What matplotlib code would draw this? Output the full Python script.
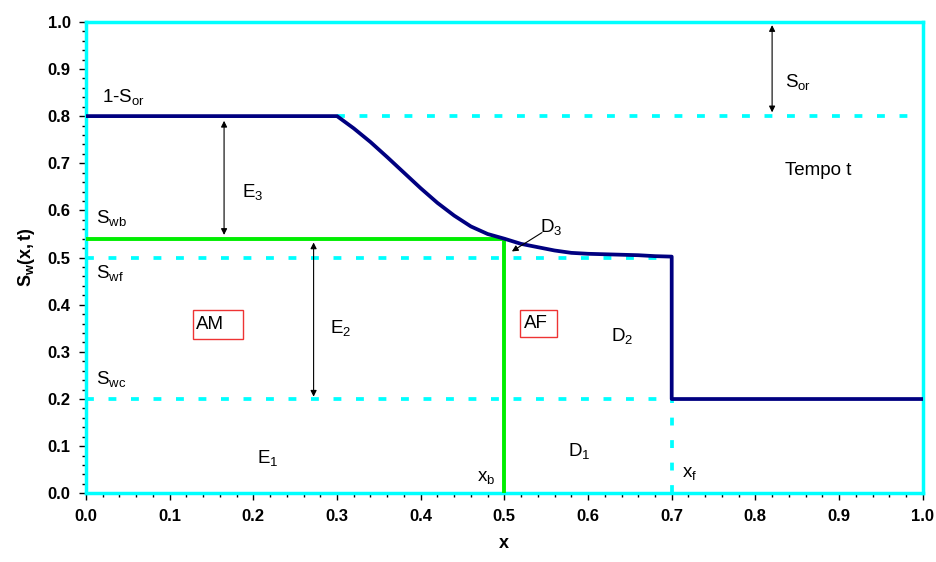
import matplotlib
matplotlib.use('Agg')
from matplotlib import pyplot as plt
from matplotlib.ticker import MultipleLocator
from matplotlib.patches import Rectangle

plt.rcParams['font.family'] = ['Liberation Sans', 'DejaVu Sans']
plt.rcParams['mathtext.fontset'] = 'custom'
plt.rcParams['mathtext.rm'] = 'Liberation Sans'
plt.rcParams['mathtext.it'] = 'Liberation Sans'
plt.rcParams['mathtext.bf'] = 'Liberation Sans:bold'
plt.rcParams['mathtext.default'] = 'regular'

# saturation profile at time t
x_sw = [0.0, 0.30, 0.32, 0.34, 0.36, 0.38, 0.40, 0.42, 0.44, 0.46, 0.48, 0.50,
        0.52, 0.54, 0.56, 0.58, 0.60, 0.62, 0.64, 0.66, 0.68, 0.70, 0.70, 1.0]
sw = [0.80, 0.80, 0.774, 0.745, 0.713, 0.680, 0.647, 0.616, 0.589, 0.566, 0.550, 0.540,
      0.529, 0.522, 0.515, 0.510, 0.508, 0.507, 0.506, 0.505, 0.503, 0.502, 0.20, 0.20]

# shock (green) saturation line
x_green = [0.0, 0.5, 0.5]
y_green = [0.54, 0.54, 0.0]

# dashed reference lines
s_or_level = 0.8
s_wf = 0.5
s_wc = 0.2
x_f = 0.7

fig = plt.figure(figsize=(9.36, 5.62), dpi=100)
ax = fig.add_axes([0.0919, 0.1222, 0.8939, 0.8390])

cyan = '#00FFFF'
navy = '#000080'
dash = (2.1, 3.9)

ax.plot([0.3, 1.0], [s_or_level, s_or_level], color=cyan, lw=2.7, dashes=dash, zorder=2)
ax.plot([0.0, x_f], [s_wf, s_wf], color=cyan, lw=2.7, dashes=dash, zorder=2)
ax.plot([0.0, x_f], [s_wc, s_wc], color=cyan, lw=2.7, dashes=dash, zorder=2)
ax.plot([x_f, x_f], [0.0, s_wc], color=cyan, lw=2.7, dashes=dash, zorder=2)

ax.plot(x_green, y_green, color='#00EE00', lw=2.8, zorder=3)
ax.plot(x_sw, sw, color=navy, lw=2.7, zorder=4)

ax.set_xlim(0, 1)
ax.set_ylim(0, 1)
ax.xaxis.set_major_locator(MultipleLocator(0.1))
ax.xaxis.set_minor_locator(MultipleLocator(0.02))
ax.yaxis.set_major_locator(MultipleLocator(0.1))
ax.yaxis.set_minor_locator(MultipleLocator(0.02))
ax.xaxis.set_major_formatter(plt.FormatStrFormatter('%.1f'))
ax.yaxis.set_major_formatter(plt.FormatStrFormatter('%.1f'))
ax.tick_params(which='major', direction='out', length=5, width=1, labelsize=12, pad=6)
ax.tick_params(which='minor', direction='out', length=3, width=1)
for lab in ax.get_xticklabels() + ax.get_yticklabels():
    lab.set_fontweight('bold')

for sp in ax.spines.values():
    sp.set_color(cyan)
    sp.set_linewidth(2.5)

ax.set_xlabel('x', fontsize=13, fontweight='bold', labelpad=8)
ax.set_ylabel(r'$\mathbf{S_w(x,t)}$', fontsize=13, labelpad=8)

fs = 13.5
ax.text(0.019, 0.84, r'1-S$_{or}$', fontsize=fs, va='center')
ax.text(0.012, 0.583, r'S$_{wb}$', fontsize=fs, va='center')
ax.text(0.012, 0.468, r'S$_{wf}$', fontsize=fs, va='center')
ax.text(0.012, 0.243, r'S$_{wc}$', fontsize=fs, va='center')
ax.text(0.186, 0.64, r'E$_3$', fontsize=fs, va='center')
ax.text(0.292, 0.35, r'E$_2$', fontsize=fs, va='center')
ax.text(0.204, 0.075, r'E$_1$', fontsize=fs, va='center')
ax.text(0.627, 0.333, r'D$_2$', fontsize=fs, va='center')
ax.text(0.576, 0.09, r'D$_1$', fontsize=fs, va='center')
ax.text(0.467, 0.033, r'x$_b$', fontsize=fs, va='center')
ax.text(0.712, 0.043, r'x$_f$', fontsize=fs, va='center')
ax.text(0.836, 0.873, r'S$_{or}$', fontsize=fs, va='center')
ax.text(0.835, 0.685, 'Tempo t', fontsize=fs, va='center')

# boxed labels
ax.add_patch(Rectangle((0.128, 0.327), 0.060, 0.062, facecolor='white',
                       edgecolor='#EE3333', lw=1, zorder=5))
ax.text(0.132, 0.359, 'AM', fontsize=fs, va='center', zorder=6)
ax.add_patch(Rectangle((0.519, 0.332), 0.044, 0.057, facecolor='white',
                       edgecolor='#EE3333', lw=1, zorder=5))
ax.text(0.5235, 0.361, 'AF', fontsize=fs, va='center', zorder=6)

arr = dict(arrowstyle='<|-|>', color='black', lw=0.8, mutation_scale=9,
           shrinkA=0, shrinkB=0)
ax.annotate('', xy=(0.165, 0.79), xytext=(0.165, 0.548), arrowprops=arr, zorder=5)
ax.annotate('', xy=(0.272, 0.532), xytext=(0.272, 0.205), arrowprops=arr, zorder=5)
ax.annotate('', xy=(0.82, 0.993), xytext=(0.82, 0.808), arrowprops=arr, zorder=5)
ax.text(0.542, 0.565, r'D$_3$', fontsize=fs, va='center')
ax.annotate('', xy=(0.509, 0.513), xytext=(0.545, 0.553),
            arrowprops=dict(arrowstyle='-|>', color='black', lw=0.8, mutation_scale=9,
                            shrinkA=0, shrinkB=0), zorder=5)

fig.savefig('out.png', dpi=100)
